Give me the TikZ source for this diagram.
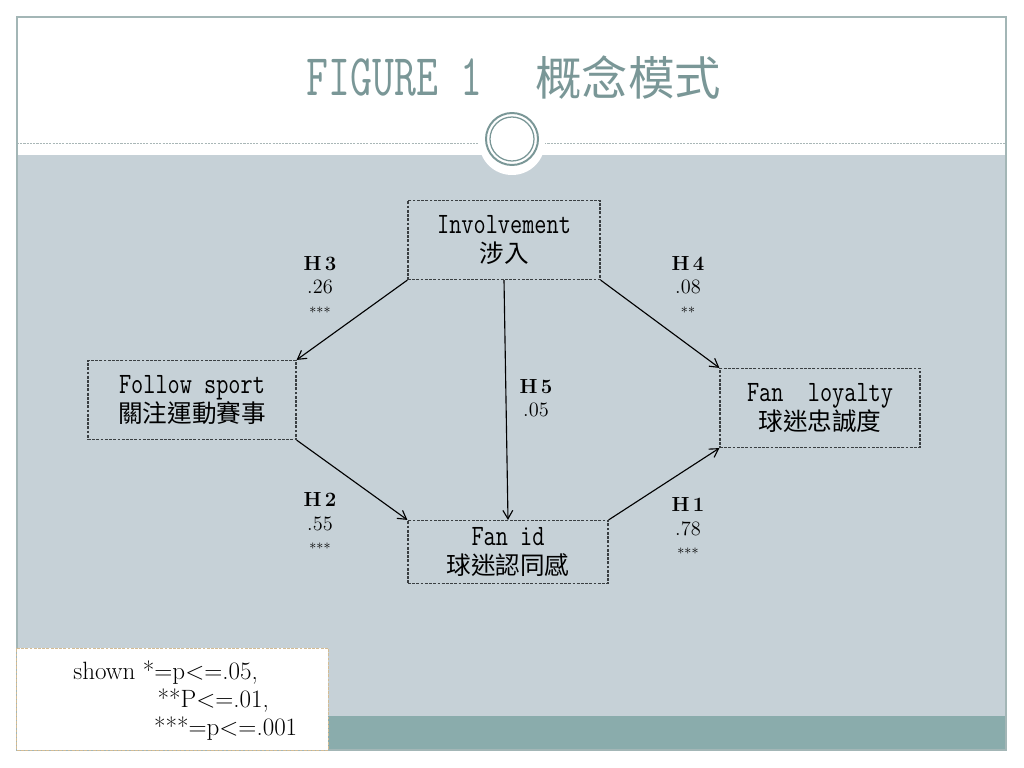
\documentclass[tikz,border=0pt]{standalone}
\usepackage{fontspec}
\usepackage{graphicx}
\newfontfamily\cjk{Noto Sans CJK TC}
\usetikzlibrary{arrows.meta, positioning}

\definecolor{bandgray}{HTML}{C6D1D7}
\definecolor{bandteal}{HTML}{8AACAC}
\definecolor{titleteal}{HTML}{7A9797}
\definecolor{frameline}{HTML}{A3B6B6}
\definecolor{ruleline}{HTML}{A9B7B7}
\definecolor{boxline}{HTML}{3A3F42}
\definecolor{legendline}{HTML}{D4BC94}

\newcommand{\latinline}[1]{\scalebox{0.8}[1]{\ttfamily #1}}
\newcommand{\cjkline}[1]{{\cjk\fontsize{17.5}{21}\selectfont #1}}

\tikzset{
  concept/.style={draw=boxline, dash pattern=on 2pt off 1pt, line width=0.8pt,
    inner sep=0pt, align=center, font=\fontsize{21}{21}\selectfont},
  hyp/.style={-{Straight Barb[length=6pt,width=7pt]}, line width=0.8pt, black},
  hlabel/.style={align=center, inner sep=0pt, font=\fontsize{14.5}{16.5}\selectfont}
}

\begin{document}
\begin{tikzpicture}[x=0.025cm, y=-0.025cm]

  \useasboundingbox (0,0) rectangle (1024,768);
  \fill[white] (0,0) rectangle (1024,768);

  %% slide background
  \fill[bandgray] (17,155) rectangle (1006,716);
  \fill[bandteal] (17,716) rectangle (1006,750);
  \draw[ruleline, dash pattern=on 1.5pt off 0.8pt, line width=0.6pt] (17,143) -- (1006,143);
  \fill[white] (512,142) circle (0.825cm);
  \draw[titleteal, line width=1.4pt] (512,139) circle (0.65cm);
  \draw[titleteal, line width=0.9pt] (512,139) circle (0.55cm);
  \draw[frameline, line width=1pt] (17,17) rectangle (1006,750);

  % title
  \node[anchor=base, inner sep=0pt, text=titleteal] (title) at (514,96)
    {\scalebox{0.72}[1]{\fontsize{42}{42}\selectfont\ttfamily FIGURE 1}\hspace{38pt}{\cjk\fontsize{33}{33}\selectfont 概念模式}};

  %% concepts
  \node[concept, minimum width=4.8cm, minimum height=1.975cm] (inv) at (504,240)
    {\latinline{Involvement}\\\cjkline{涉入}};
  \node[concept, minimum width=5.2cm, minimum height=1.975cm] (fol) at (192,400)
    {\latinline{Follow sport}\\\cjkline{關注運動賽事}};
  \node[concept, minimum width=5cm, minimum height=1.975cm] (loy) at (820,408)
    {\latinline{Fan\ \ loyalty}\\\cjkline{球迷忠誠度}};
  \node[concept, minimum width=5cm, minimum height=1.575cm] (fid) at (508,552)
    {\latinline{Fan id}\\\cjkline{球迷認同感}};

  %% hypotheses
  \draw[hyp] (inv.south west) -- (fol.north east);
  \draw[hyp] (inv.south) -- (fid.north);
  \draw[hyp] (inv.south east) -- (loy.north west);
  \draw[hyp] (fol.south east) -- (fid.north west);
  \draw[hyp] (fid.north east) -- (loy.south west);

  % path coefficients
  \node[hlabel] (lblh3) at (320,287) {\textbf{H\,3}\\.26\\{\fontsize{10}{10}\selectfont ***}};
  \node[hlabel] (lblh4) at (688,287) {\textbf{H\,4}\\.08\\{\fontsize{10}{10}\selectfont **}};
  \node[hlabel] (lblh5) at (536,398) {\textbf{H\,5}\\.05};
  \node[hlabel] (lblh2) at (320,523) {\textbf{H\,2}\\.55\\{\fontsize{10}{10}\selectfont ***}};
  \node[hlabel] (lblh1) at (688,528) {\textbf{H\,1}\\.78\\{\fontsize{10}{10}\selectfont ***}};

  %% legend
  \node[draw=legendline, fill=white, dash pattern=on 2pt off 1pt, line width=0.7pt,
    minimum width=7.775cm, minimum height=2.55cm, inner sep=0pt] (legend) at (172.5,699) {};
  \node[anchor=north west, align=left, inner sep=0pt, font=\fontsize{17.8}{20}\selectfont] (legtext) at (73,660)
    {shown *=p<=.05,\\\hspace*{60pt}**P<=.01,\\\hspace*{57.5pt}***=p<=.001};

\end{tikzpicture}
\end{document}
